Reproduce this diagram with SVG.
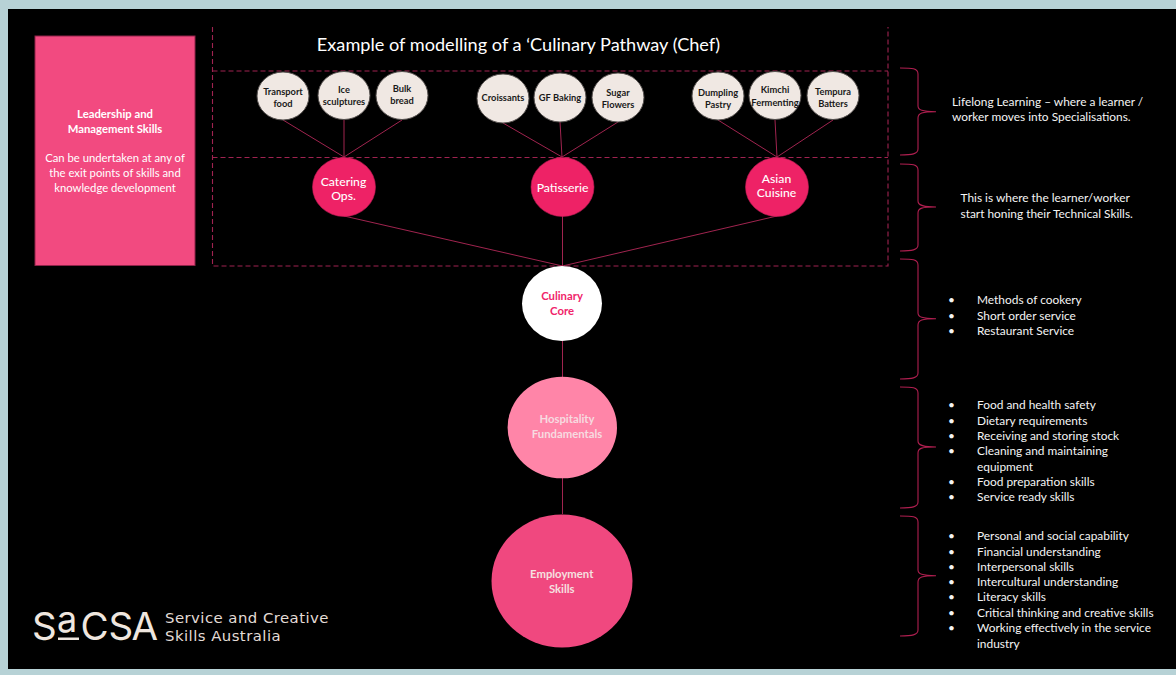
<svg xmlns="http://www.w3.org/2000/svg" width="1176" height="675" viewBox="0 0 1176 675">
<style>
text{font-family:Lato,"Liberation Sans",sans-serif;text-anchor:middle;fill:#fff}
.l text,text.l{text-anchor:start}
.s circle,.s ellipse{fill:#f0e8e3;stroke:#55504e;stroke-width:1}
.s text{font-size:9.3px;font-weight:700;fill:#1a1a1a}
.p ellipse{fill:#ee2266;stroke:#c01c55;stroke-width:.6}
.p text{font-size:12.2px;font-weight:500}
.dash{fill:none;stroke:#a02350;stroke-width:1.1;stroke-dasharray:5 3}
.conn{stroke:#a0244f;stroke-width:1;fill:none}
.brace{stroke:#b01f50;stroke-width:1.1;fill:none}
.side text{font-size:11.9px;fill:#f4f4f4}
.logo text{font-family:Inter,sans-serif;font-weight:400;fill:#efe6df}
.logo text.w{font-family:"DejaVu Sans",sans-serif;font-size:14.900px;fill:#e4dcd6;letter-spacing:.45px}
</style>
<rect width="1176" height="675" fill="#b7d2d6"/>
<rect x="8" y="9" width="1168" height="660" fill="#000"/>

<g id="frame">
<path class="dash" d="M212.500 27V266H888V27M212.500 71H888M212.500 157.500H888"/>
</g>

<text x="518.500" y="51" font-size="18.150" id="title">Example of modelling of a ‘Culinary Pathway (Chef)</text>

<g id="connectors">
<path class="conn" d="M283 120L344 157M344 120V157M402 120L344 157M503 123L562 157M560 122L562 157M618 122L562 157M718 120L777 157M775 120L777 157M833 120L777 157M344 216L562.500 266M562.500 216V266M777 216L562.500 266M562.500 341V377M562.500 478V514"/>
</g>

<g id="leadership">
<rect x="35" y="36" width="160" height="229.500" fill="#f24a80" stroke="#8f2349" stroke-width="1"/>
<text x="115" y="118" font-size="11.300" font-weight="700">Leadership and</text>
<text x="115" y="133" font-size="11.300" font-weight="700">Management Skills</text>
<text x="115" y="162" font-size="11.300">Can be undertaken at any of</text>
<text x="115" y="177" font-size="11.300">the exit points of skills and</text>
<text x="115" y="192" font-size="11.300">knowledge development</text>
</g>

<g id="n-transport" class="s"><ellipse cx="283" cy="96" rx="26" ry="24"/><text x="283" y="94.500">Transport</text><text x="283" y="106.500">food</text></g>
<g id="n-ice" class="s"><ellipse cx="344" cy="95.500" rx="26" ry="24"/><text x="344" y="92.500">Ice</text><text x="344" y="104.500">sculptures</text></g>
<g id="n-bulk" class="s"><ellipse cx="402" cy="95.500" rx="26" ry="24"/><text x="402" y="91.500">Bulk</text><text x="402" y="103.500">bread</text></g>
<g id="n-croissants" class="s"><ellipse cx="503" cy="98.500" rx="26" ry="24.500"/><text x="503" y="100.500">Croissants</text></g>
<g id="n-gf" class="s"><ellipse cx="560" cy="97.500" rx="26" ry="24.500"/><text x="560" y="100.500">GF Baking</text></g>
<g id="n-sugar" class="s"><ellipse cx="618" cy="97.500" rx="26" ry="24.500"/><text x="618" y="96">Sugar</text><text x="618" y="108">Flowers</text></g>
<g id="n-dumpling" class="s"><ellipse cx="718" cy="96" rx="26" ry="24"/><text x="718" y="96">Dumpling</text><text x="718" y="108">Pastry</text></g>
<g id="n-kimchi" class="s"><ellipse cx="775" cy="95.500" rx="26" ry="24"/><text x="775" y="93">Kimchi</text><text x="775" y="105.500">Fermenting</text></g>
<g id="n-tempura" class="s"><ellipse cx="833" cy="95.500" rx="26" ry="24"/><text x="833" y="94.500">Tempura</text><text x="833" y="106.500">Batters</text></g>

<g id="n-catering" class="p"><ellipse cx="344" cy="187" rx="31.500" ry="29.500"/><text x="343.500" y="185.500">Catering</text><text x="343.500" y="200">Ops.</text></g>
<g id="n-patisserie" class="p"><ellipse cx="562.500" cy="187" rx="31.500" ry="29.500"/><text x="562.500" y="192">Patisserie</text></g>
<g id="n-asian" class="p"><ellipse cx="777" cy="187" rx="31.500" ry="29.500"/><text x="776.500" y="182.500">Asian</text><text x="776.500" y="197">Cuisine</text></g>

<g id="n-culinary"><ellipse cx="562" cy="303.500" rx="40" ry="37.500" fill="#fff"/><text x="562" y="300" font-size="11.300" font-weight="700" style="fill:#f0246a">Culinary</text><text x="562" y="314.800" font-size="11.300" font-weight="700" style="fill:#f0246a">Core</text></g>
<g id="n-hospitality"><ellipse cx="562.300" cy="427.500" rx="54.700" ry="50.800" fill="#ff85a8"/><text x="567" y="423" font-size="11.300" font-weight="700" style="fill:#f7dbe0">Hospitality</text><text x="567" y="437.800" font-size="11.300" font-weight="700" style="fill:#f7dbe0">Fundamentals</text></g>
<g id="n-employment"><ellipse cx="562" cy="581" rx="70.500" ry="66.500" fill="#f0487f"/><text x="561.700" y="578" font-size="11.300" font-weight="700" style="fill:#f6e0e0">Employment</text><text x="561.700" y="593" font-size="11.300" font-weight="700" style="fill:#f6e0e0">Skills</text></g>

<g id="braces">
<path class="brace" d="M900 68C912 68 918 68 918 74V106C918 110 922 111.700 936 111.700C922 111.700 918 113 918 118V149C918 154 912 155 900 155"/>
<path class="brace" d="M900 164C912 164 918 164 918 170V201C918 205 922 207 936 207C922 207 918 208 918 213V245C918 250 912 251 900 251"/>
<path class="brace" d="M900 259C912 259 918 259 918 265V313C918 317 922 318.700 936 318.700C922 318.700 918 320 918 325V373C918 378 912 379 900 379"/>
<path class="brace" d="M900 387C912 387 918 387 918 393V441C918 445 922 447 936 447C922 447 918 448 918 453V502C918 507 912 508 900 508"/>
<path class="brace" d="M900 516C912 516 918 516 918 522V570C918 574 922 575.700 936 575.700C922 575.700 918 577 918 582V630C918 635 912 636 900 636"/>
</g>

<g id="notes" class="side l">
<text x="952" y="105.500">Lifelong Learning – where a learner /</text>
<text x="952" y="121">worker moves into Specialisations.</text>
<text x="960.500" y="201.500">This is where the learner/worker</text>
<text x="960.500" y="217.500">start honing their Technical Skills.</text>
<g id="list-core">
<text x="948" y="304">•</text><text x="977" y="304">Methods of cookery</text>
<text x="948" y="319.500">•</text><text x="977" y="319.500">Short order service</text>
<text x="948" y="335">•</text><text x="977" y="335">Restaurant Service</text>
</g>
<g id="list-fund">
<text x="948" y="409">•</text><text x="977" y="409">Food and health safety</text>
<text x="948" y="424.500">•</text><text x="977" y="424.500">Dietary requirements</text>
<text x="948" y="440">•</text><text x="977" y="440">Receiving and storing stock</text>
<text x="948" y="455">•</text><text x="977" y="455">Cleaning and maintaining</text>
<text x="977" y="470.500">equipment</text>
<text x="948" y="485.500">•</text><text x="977" y="485.500">Food preparation skills</text>
<text x="948" y="501">•</text><text x="977" y="501">Service ready skills</text>
</g>
<g id="list-emp">
<text x="948" y="540">•</text><text x="977" y="540">Personal and social capability</text>
<text x="948" y="555.500">•</text><text x="977" y="555.500">Financial understanding</text>
<text x="948" y="571">•</text><text x="977" y="571">Interpersonal skills</text>
<text x="948" y="586">•</text><text x="977" y="586">Intercultural understanding</text>
<text x="948" y="601">•</text><text x="977" y="601">Literacy skills</text>
<text x="948" y="616.500">•</text><text x="977" y="616.500">Critical thinking and creative skills</text>
<text x="948" y="632">•</text><text x="977" y="632">Working effectively in the service</text>
<text x="977" y="647.500">industry</text>
</g>
</g>

<g id="logo" class="l logo">
<text font-size="38.500" y="640" x="32">S</text>
<text font-size="36" y="632" x="57">a</text>
<rect x="58" y="637.500" width="21" height="2.500" fill="#efe6df"/>
<text font-size="38.500" y="640" x="80.500">C</text>
<text font-size="38.500" y="640" x="108.500">S</text>
<text font-size="38.500" y="640" x="131.500">A</text>
<text class="w" x="165" y="622.500">Service and Creative</text>
<text class="w" x="165" y="640.500">Skills Australia</text>
</g>
</svg>
